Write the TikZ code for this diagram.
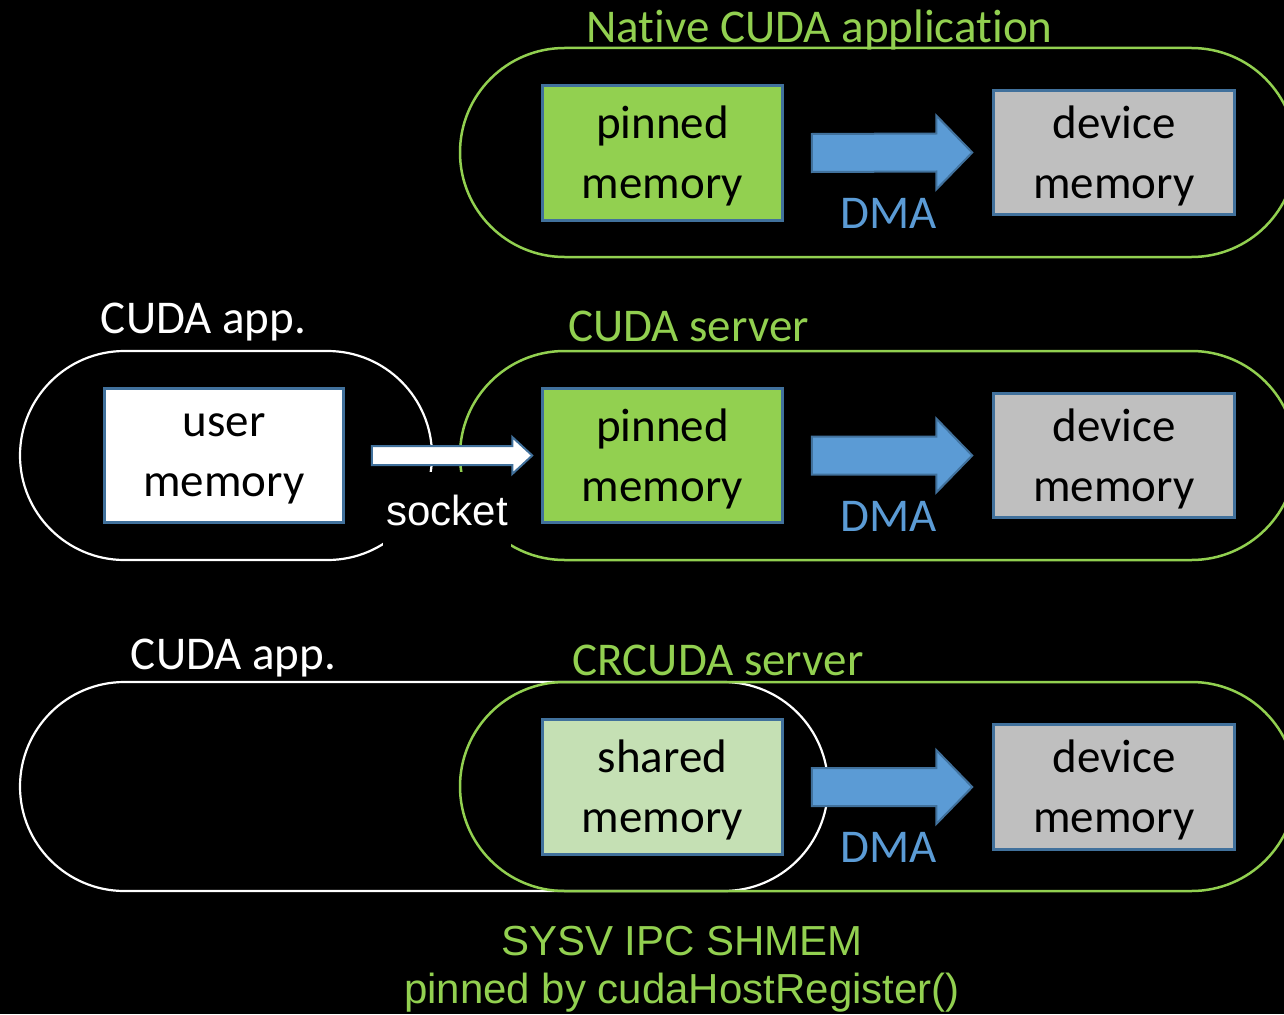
\documentclass[tikz,border=0pt]{standalone}
\usepackage{fontspec}
\setmainfont{Carlito}[Ligatures={NoCommon,NoContextual}, Contextuals=NoAlternate]
\newfontfamily\arialfont{Liberation Sans}
\definecolor{nvgreen}{HTML}{92D050}
\definecolor{lightgreen}{HTML}{C5E0B4}
\definecolor{devgray}{HTML}{BFBFBF}
\definecolor{dmablue}{HTML}{5B9BD5}
\definecolor{edgeblue}{HTML}{41719C}
\begin{document}
\begin{tikzpicture}[x=1pt,y=-1pt,
  membox/.style={draw=edgeblue, line width=2.5pt, inner sep=0pt, align=center, text=black,
                 text depth=1pt, font=\fontsize{47}{60}\selectfont},
  pinnedbox/.style={membox, fill=nvgreen, minimum width=240pt, minimum height=135pt},
  devbox/.style={membox, fill=devgray, minimum width=241pt, minimum height=124pt},
  greenpill/.style={draw=nvgreen, line width=2.5pt, rounded corners=104.5pt},
  whitepill/.style={draw=white, line width=2.2pt, rounded corners=104.5pt},
  titletext/.style={anchor=base, font=\fontsize{47}{56}\selectfont, inner sep=0pt},
  dmalabel/.style={anchor=base, text=dmablue, font=\fontsize{47}{56}\selectfont, inner sep=0pt},
  dmaarrow/.style={fill=dmablue, draw=edgeblue, line width=2pt, line join=miter},
  sockarrow/.style={fill=white, draw=edgeblue, line width=2pt, line join=miter},
  noteText/.style={anchor=base, text=nvgreen, font=\arialfont\fontsize{42}{48}\selectfont, inner sep=0pt},
]
\useasboundingbox (0,0) rectangle (1284,1014);
\fill[black] (0,0) rectangle (1284,1014);
\clip (0,0) rectangle (1284,1014);

% ---------- Row 1: native ----------
\draw[greenpill] (460,48) rectangle (1296,257);
\node[titletext, text=nvgreen] (t1) at (819.5,43) {Native CUDA application};
\node[pinnedbox] (pin1) at (662.5,153) {pinned\\memory};
\node[devbox] (dev1) at (1114,152.5) {device\\memory};

% ---------- Row 2: CUDA server ----------
\draw[whitepill] (20,351) rectangle (432,560);
\draw[greenpill] (460,351) rectangle (1296,560);
\node[titletext, text=white] (t2a) at (203.5,333) {CUDA app.};
\node[titletext, text=nvgreen] (t2b) at (688.5,341) {CUDA server};
\node[membox, fill=white, minimum width=239pt, minimum height=134pt] (user) at (224,455.5) {user\\memory};
\node[pinnedbox, minimum height=134pt] (pin2) at (662.5,455.5) {pinned\\memory};
\node[devbox] (dev2) at (1114,455.5) {device\\memory};
\node[anchor=base, fill=black, text=white, inner xsep=3pt, inner ysep=23pt,
      font=\arialfont\fontsize{42}{48}\selectfont] (sock) at (447,525) {socket};
\coordinate (sa) at ([xshift=27pt]user.east);
\coordinate (sb) at ([xshift=-9pt]pin2.west);
\draw[sockarrow] ([yshift=-9.5pt]sa) -- ([xshift=-20pt,yshift=-9.5pt]sb) -- ([xshift=-20pt,yshift=-18.5pt]sb)
   -- (sb) -- ([xshift=-20pt,yshift=18.5pt]sb) -- ([xshift=-20pt,yshift=9.5pt]sb) -- ([yshift=9.5pt]sa) -- cycle;

% ---------- Row 3: CRCUDA server ----------
\draw[whitepill] (20,682) rectangle (828,891);
\draw[greenpill] (460,682) rectangle (1296,891);
\node[titletext, text=white] (t3a) at (233.5,669) {CUDA app.};
\node[titletext, text=nvgreen] (t3b) at (718,675) {CRCUDA server};
\node[membox, fill=lightgreen, minimum width=240pt, minimum height=135pt] (shm) at (662.5,787) {shared\\memory};
\node[devbox, minimum height=125pt] (dev3) at (1114,787) {device\\memory};

% ---------- DMA arrows ----------
\foreach \src/\dst/\dy in {pin1/dev1/0, pin2/dev2/303, shm/dev3/634}{
  \coordinate (da) at ([xshift=28pt]\src.east);
  \coordinate (db) at ([xshift=-20pt]\dst.west);
  \draw[dmaarrow] ([yshift=-19pt]da) -- ([xshift=-36pt,yshift=-19pt]db) -- ([xshift=-36pt,yshift=-37pt]db)
     -- (db) -- ([xshift=-36pt,yshift=37pt]db) -- ([xshift=-36pt,yshift=19pt]db) -- ([yshift=19pt]da) -- cycle;
  \node[dmalabel] at (889,228+\dy) {DMA};
}

% ---------- Notes ----------
\node[noteText] (n1) at (682,955) {SYSV IPC SHMEM};
\node[noteText] (n2) at (682,1003) {pinned by cudaHostRegister()};
\end{tikzpicture}
\end{document}
